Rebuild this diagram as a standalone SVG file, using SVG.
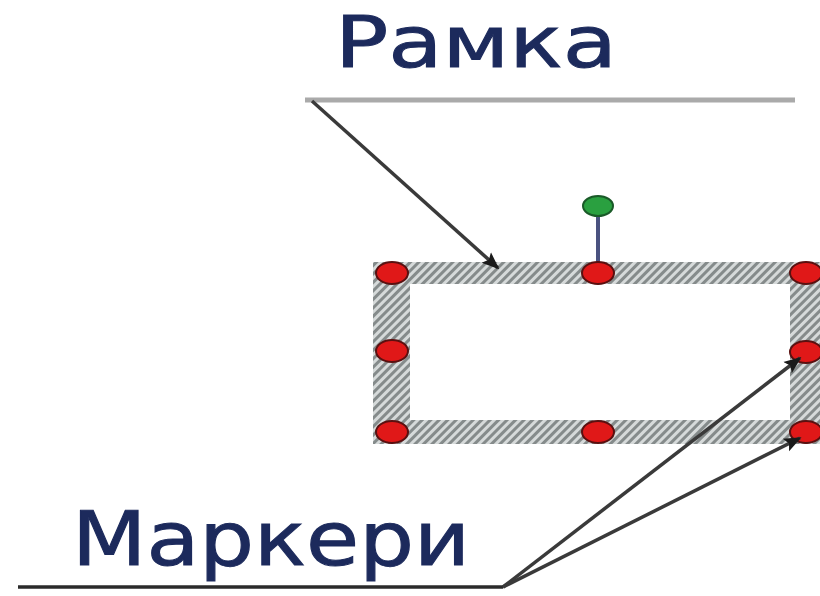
<svg xmlns="http://www.w3.org/2000/svg" width="820" height="596" viewBox="0 0 820 596">
<defs>
<pattern id="hatch" width="6" height="6" patternUnits="userSpaceOnUse" patternTransform="rotate(45)">
<rect width="6" height="6" fill="#d6dada"/>
<rect width="3" height="6" fill="#858b8b"/>
</pattern>
<marker id="ah" viewBox="0 0 10 10" refX="9" refY="5" markerWidth="5" markerHeight="5" orient="auto" markerUnits="strokeWidth">
<path d="M0,1 L10,5 L0,9 L2,5 Z" fill="#1a1a1a"/>
</marker>
</defs>
<style>
.lbl{font-family:"DejaVu Sans","Liberation Sans",sans-serif;fill:#1c2a5c;stroke:#1c2a5c;stroke-width:1}
.conn{stroke:#3a3a3a;stroke-width:3.5;fill:none}
.hdl{fill:#e01818;stroke:#5a1010;stroke-width:2}
</style>
<rect width="820" height="596" fill="#ffffff"/>
<g id="frame">
<path d="M373,262 H822 V444 H373 Z M410,284 V420 H790 V284 Z" fill="url(#hatch)" fill-rule="evenodd"/>
</g>
<g id="rotate-handle">
<line x1="598" y1="210" x2="598" y2="272" stroke="#4a5280" stroke-width="4"/>
<ellipse cx="598" cy="206" rx="15" ry="10" fill="#2aa040" stroke="#1a5a28" stroke-width="2"/>
</g>
<g id="handles">
<ellipse class="hdl" cx="392" cy="273" rx="16" ry="11"/>
<ellipse class="hdl" cx="598" cy="273" rx="16" ry="11"/>
<ellipse class="hdl" cx="806" cy="273" rx="16" ry="11"/>
<ellipse class="hdl" cx="392" cy="351" rx="16" ry="11"/>
<ellipse class="hdl" cx="806" cy="352" rx="16" ry="11"/>
<ellipse class="hdl" cx="392" cy="432" rx="16" ry="11"/>
<ellipse class="hdl" cx="598" cy="432" rx="16" ry="11"/>
<ellipse class="hdl" cx="806" cy="432" rx="16" ry="11"/>
</g>
<g id="label-ramka">
<text class="lbl" x="335" y="67" font-size="71" textLength="282" lengthAdjust="spacingAndGlyphs">Рамка</text>
<line x1="305" y1="100" x2="795" y2="100" stroke="#aaaaaa" stroke-width="5"/>
</g>
<g id="label-markery">
<text class="lbl" x="72" y="565" font-size="74" textLength="398" lengthAdjust="spacingAndGlyphs">Маркери</text>
<line x1="18" y1="587" x2="503" y2="587" stroke="#2a2a2a" stroke-width="3.5"/>
</g>
<g id="connectors">
<line class="conn" x1="312" y1="101" x2="498" y2="268" marker-end="url(#ah)"/>
<line class="conn" x1="503" y1="587" x2="800" y2="358" marker-end="url(#ah)"/>
<line class="conn" x1="503" y1="587" x2="800" y2="438" marker-end="url(#ah)"/>
</g>
</svg>
